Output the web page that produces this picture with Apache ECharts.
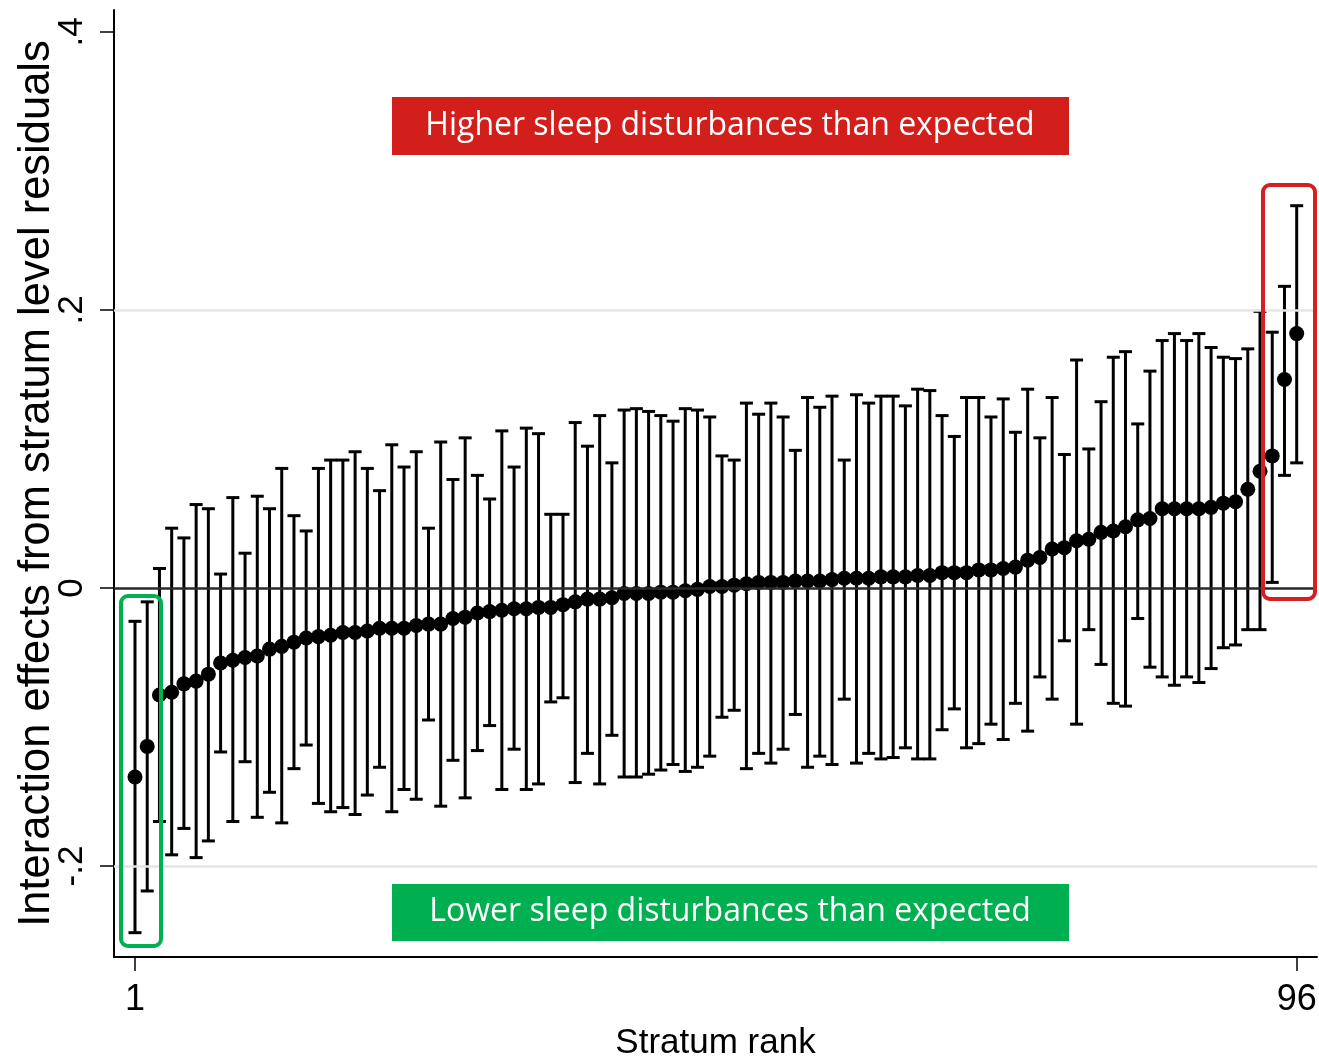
<!DOCTYPE html>
<html><head><meta charset="utf-8">
<script src="https://cdn.jsdelivr.net/npm/echarts@6/dist/echarts.min.js"></script>
<style>html,body{margin:0;padding:0;background:#fff}#c{width:1319px;height:1061px}</style>
</head><body><div id="c"></div>
<script>
const ranks = [1,2,3,4,5,6,7,8,9,10,11,12,13,14,15,16,17,18,19,20,21,22,23,24,25,26,27,28,29,30,31,32,33,34,35,36,37,38,39,40,41,42,43,44,45,46,47,48,49,50,51,52,53,54,55,56,57,58,59,60,61,62,63,64,65,66,67,68,69,70,71,72,73,74,75,76,77,78,79,80,81,82,83,84,85,86,87,88,89,90,91,92,93,94,95,96];
const estimates = [-0.136,-0.114,-0.077,-0.075,-0.069,-0.067,-0.062,-0.054,-0.052,-0.050,-0.049,-0.044,-0.042,-0.039,-0.036,-0.035,-0.034,-0.032,-0.032,-0.031,-0.029,-0.029,-0.029,-0.027,-0.026,-0.026,-0.022,-0.021,-0.018,-0.017,-0.016,-0.015,-0.015,-0.014,-0.014,-0.012,-0.010,-0.008,-0.008,-0.007,-0.004,-0.004,-0.004,-0.003,-0.003,-0.002,-0.001,0.001,0.001,0.002,0.003,0.004,0.004,0.004,0.005,0.005,0.005,0.006,0.007,0.007,0.007,0.008,0.008,0.008,0.009,0.009,0.011,0.011,0.011,0.013,0.013,0.014,0.015,0.020,0.022,0.028,0.029,0.034,0.035,0.040,0.041,0.044,0.049,0.050,0.057,0.057,0.057,0.057,0.058,0.061,0.062,0.071,0.084,0.095,0.150,0.183];
const lowerCI = [-0.248,-0.218,-0.168,-0.192,-0.173,-0.194,-0.182,-0.118,-0.168,-0.125,-0.165,-0.147,-0.169,-0.130,-0.113,-0.155,-0.161,-0.158,-0.163,-0.149,-0.129,-0.161,-0.145,-0.152,-0.095,-0.157,-0.124,-0.151,-0.117,-0.099,-0.145,-0.116,-0.145,-0.141,-0.082,-0.079,-0.140,-0.119,-0.141,-0.106,-0.136,-0.136,-0.134,-0.131,-0.127,-0.132,-0.129,-0.121,-0.093,-0.088,-0.130,-0.119,-0.126,-0.116,-0.091,-0.129,-0.121,-0.127,-0.080,-0.126,-0.119,-0.123,-0.122,-0.115,-0.123,-0.123,-0.102,-0.087,-0.115,-0.112,-0.098,-0.109,-0.083,-0.103,-0.064,-0.080,-0.038,-0.098,-0.030,-0.055,-0.083,-0.085,-0.022,-0.057,-0.064,-0.070,-0.064,-0.068,-0.058,-0.043,-0.041,-0.030,-0.030,0.004,0.081,0.090];
const upperCI = [-0.024,-0.010,0.014,0.043,0.036,0.060,0.057,0.010,0.065,0.025,0.066,0.057,0.086,0.052,0.041,0.086,0.092,0.092,0.098,0.086,0.070,0.103,0.087,0.098,0.043,0.105,0.078,0.108,0.081,0.064,0.113,0.087,0.115,0.111,0.053,0.053,0.119,0.102,0.124,0.090,0.128,0.129,0.127,0.124,0.120,0.129,0.128,0.123,0.095,0.092,0.133,0.125,0.133,0.123,0.099,0.137,0.130,0.138,0.092,0.139,0.133,0.138,0.138,0.131,0.143,0.142,0.124,0.109,0.137,0.137,0.123,0.136,0.112,0.143,0.108,0.137,0.096,0.164,0.100,0.134,0.166,0.170,0.118,0.156,0.178,0.183,0.178,0.183,0.173,0.166,0.165,0.172,0.199,0.184,0.217,0.275];
const xTickValues = [1, 96];
const yTickValues = [-0.2, 0, 0.2, 0.4];
const yTickLabels = ['-.2', '0', '.2', '.4'];
const gridLineValues = [-0.2, 0.2];
const zeroLineValue = 0;
const xTitle = 'Stratum rank';
const yTitle = 'Interaction effects from stratum level residuals';
const higherText = 'Higher sleep disturbances than expected';
const lowerText = 'Lower sleep disturbances than expected';

const chart = echarts.init(document.getElementById('c'), null, {renderer: 'canvas'});
const errData = ranks.map((r, i) => [r, lowerCI[i], upperCI[i]]);
const ptData = ranks.map((r, i) => [r, estimates[i]]);
const axisFont = '"Liberation Sans", Arial, Helvetica, sans-serif';

const option = {
  animation: false,
  backgroundColor: '#fff',
  grid: {left: 114, right: 2, top: 10, bottom: 104, containLabel: false, outerBoundsMode: 'none'},
  xAxis: {
    type: 'value', min: -0.7168, max: 97.66,
    axisLine: {show: true, onZero: false, lineStyle: {color: '#000', width: 2}},
    axisTick: {show: true, customValues: xTickValues, length: 14, lineStyle: {color: '#000', width: 1.5}},
    axisLabel: {customValues: xTickValues, fontFamily: axisFont, fontSize: 36, color: '#000', margin: 25},
    splitLine: {show: false},
    name: xTitle, nameLocation: 'middle', nameGap: 69, nameMoveOverlap: false,
    nameTextStyle: {fontFamily: axisFont, fontSize: 35, color: '#000'}
  },
  yAxis: {
    type: 'value', min: -0.2655, max: 0.4158,
    axisLine: {show: true, onZero: false, lineStyle: {color: '#000', width: 2}},
    axisTick: {show: true, customValues: yTickValues, length: 14, lineStyle: {color: '#000', width: 1.5}},
    axisLabel: {
      customValues: yTickValues, rotate: 90, margin: 24,
      fontFamily: axisFont, fontSize: 35, color: '#000',
      formatter: function (v) {
        for (let i = 0; i < yTickValues.length; i++) if (Math.abs(v - yTickValues[i]) < 1e-9) return yTickLabels[i];
        return '';
      }
    },
    splitLine: {show: false},
    name: yTitle, nameLocation: 'middle', nameGap: 55, nameMoveOverlap: false,
    nameTextStyle: {fontFamily: axisFont, fontSize: 43.5, color: '#000'}
  },
  series: [
    {
      type: 'line', data: [], silent: true, z: 1,
      markLine: {
        silent: true, symbol: 'none', label: {show: false}, animation: false,
        data: gridLineValues.map(v => ({yAxis: v, lineStyle: {color: '#e6e6e6', width: 2.5, type: 'solid'}}))
          .concat([{yAxis: zeroLineValue, lineStyle: {color: '#2a2a2a', width: 2.5, type: 'solid'}}])
      }
    },
    {
      type: 'custom', z: 3,
      encode: {x: 0, y: [1, 2]},
      data: errData,
      renderItem: function (params, api) {
        const x = api.value(0);
        const pLo = api.coord([x, api.value(1)]);
        const pHi = api.coord([x, api.value(2)]);
        const hw = 6.5;
        const st = {stroke: '#000', lineWidth: 3};
        return {type: 'group', children: [
          {type: 'line', shape: {x1: pLo[0], y1: pLo[1], x2: pHi[0], y2: pHi[1]}, style: st},
          {type: 'line', shape: {x1: pLo[0] - hw, y1: pLo[1], x2: pLo[0] + hw, y2: pLo[1]}, style: st},
          {type: 'line', shape: {x1: pHi[0] - hw, y1: pHi[1], x2: pHi[0] + hw, y2: pHi[1]}, style: st}
        ]};
      }
    },
    {
      type: 'scatter', z: 4, data: ptData, symbol: 'circle', symbolSize: 15,
      itemStyle: {color: '#000', opacity: 1}
    }
  ],
  graphic: [
    {type: 'rect', z: 10, shape: {x: 392, y: 97, width: 677, height: 58}, style: {fill: '#d21f1b'}},
    {type: 'text', z: 11, x: 730, y: 126, style: {text: higherText, fill: '#fff', font: '32px "Open Sans", sans-serif', textAlign: 'center', textVerticalAlign: 'middle'}},
    {type: 'rect', z: 10, shape: {x: 392, y: 884, width: 677, height: 57}, style: {fill: '#00b050'}},
    {type: 'text', z: 11, x: 730, y: 912, style: {text: lowerText, fill: '#fff', font: '32px "Open Sans", sans-serif', textAlign: 'center', textVerticalAlign: 'middle'}},
    {type: 'rect', z: 12, shape: {x: 121, y: 596, width: 40, height: 350, r: 7}, style: {fill: 'none', stroke: '#00b050', lineWidth: 4}},
    {type: 'rect', z: 12, shape: {x: 1263, y: 185, width: 52, height: 414, r: 7}, style: {fill: 'none', stroke: '#d42020', lineWidth: 4}}
  ]
};
chart.setOption(option);
</script>
</body></html>
